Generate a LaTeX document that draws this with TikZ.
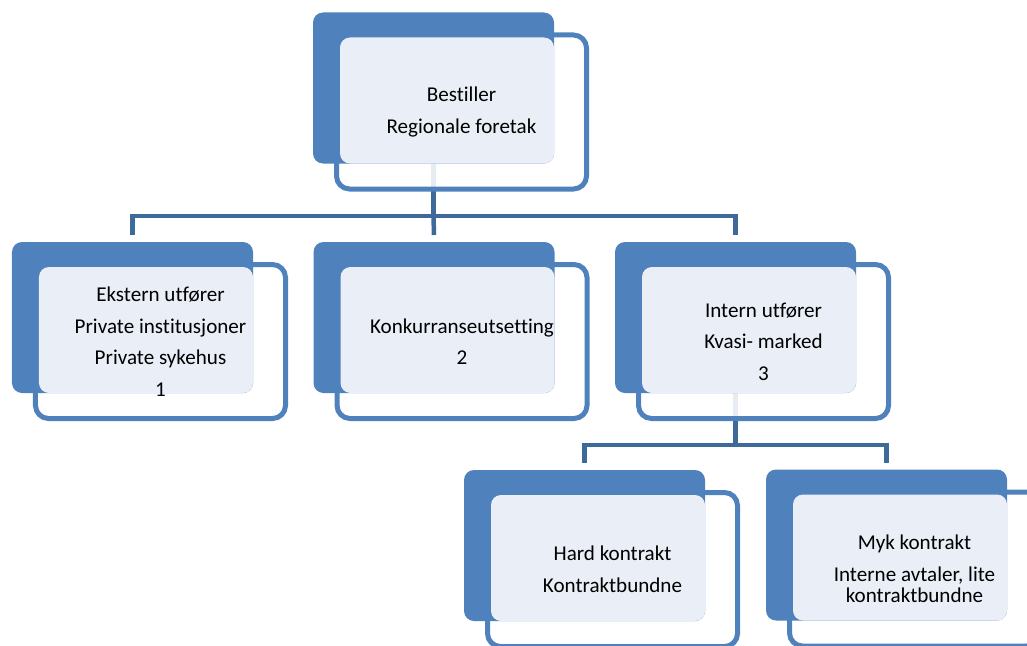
\documentclass[tikz,border=0pt]{standalone}
\usepackage{fontspec}
\setmainfont[Ligatures=NoCommon]{Carlito}
\usetikzlibrary{calc,backgrounds}
\definecolor{boxblue}{HTML}{4F81BD}
\definecolor{linkblue}{HTML}{3E6A9A}
\definecolor{paleblue}{HTML}{EAEFF7}

\begin{document}
\begin{tikzpicture}[x=0.2mm,y=-0.2mm,
  backbox/.style={fill=boxblue,rounded corners=2mm,minimum width=48.2mm,minimum height=30.2mm,inner sep=0pt,outer sep=0pt},
  frontbox/.style={draw=boxblue,fill=white,fill opacity=0.88,line width=1mm,rounded corners=2.6mm,minimum width=50mm,minimum height=30.8mm,inner sep=0pt,outer sep=0pt},
  textbox/.style={fill=paleblue,rounded corners=2mm},
  txt/.style={align=center,font=\fontsize{12}{18}\selectfont,text=black},
  link/.style={draw=linkblue,line width=0.9mm}]
\useasboundingbox (0,0) rectangle (1027,646);

% back boxes
\node[backbox] (b0) at (433.5,88) {};
\node[backbox] (b1) at (132.5,317.5) {};
\node[backbox] (b2) at (434,317.5) {};
\node[backbox] (b3) at (735.5,317.5) {};
\node[backbox] (b4) at (584.5,545.5) {};
\node[backbox] (b5) at (886.5,545) {};

% pale text areas
\path[textbox] ($(b0.north west)+(27,25)$) rectangle (b0.south east);
\path[textbox] ($(b1.north west)+(27,25)$) rectangle (b1.south east);
\path[textbox] ($(b2.north west)+(27,25)$) rectangle (b2.south east);
\path[textbox] ($(b3.north west)+(27,25)$) rectangle (b3.south east);
\path[textbox] ($(b4.north west)+(27,25)$) rectangle (b4.south east);
\path[textbox] ($(b5.north west)+(27,25)$) rectangle (b5.south east);

\node[txt] (t0) at ($(b0)+(28,24)$) {Bestiller\\Regionale foretak};
\node[txt] (t1) at ($(b1)+(28,24)$) {Ekstern utfører\\Private institusjoner\\Private sykehus\\1};
\node[txt] (t2) at ($(b2)+(28,24)$) {Konkurranseutsetting\\2};
\node[txt] (t3) at ($(b3)+(28,24)$) {Intern utfører\\Kvasi- marked\\3};
\node[txt] (t4) at ($(b4)+(28,24)$) {Hard kontrakt\\Kontraktbundne};
\node[txt] (t5) at ($(b5)+(28,24)$) {Myk kontrakt\\Interne avtaler, lite\\[-5.8pt]kontraktbundne};

\begin{pgfonlayer}{background}
% connectors
\coordinate (bus1) at (433.5,216);
\coordinate (bus2) at (735.5,445);
\draw[link] (b0.south) -- (bus1);
\draw[link] ([yshift=1.4mm]b1.north) |- (bus1) -| ([yshift=1.4mm]b3.north);
\draw[link] (bus1) -- ([yshift=1.4mm]b2.north);
\draw[link] (b3.south) -- (bus2);
\draw[link] ([yshift=1.4mm]b4.north) |- (bus2) -| ([yshift=1.4mm]b5.north);
% outlined boxes
\node[frontbox] (f0) at ($(b0)+(28,24)$) {};
\node[frontbox] (f1) at ($(b1)+(28,24)$) {};
\node[frontbox] (f2) at ($(b2)+(28,24)$) {};
\node[frontbox] (f3) at ($(b3)+(28,24)$) {};
\node[frontbox] (f4) at ($(b4)+(28,24)$) {};
\node[frontbox] (f5) at ($(b5)+(28,24)$) {};
\end{pgfonlayer}
\end{tikzpicture}
\end{document}
